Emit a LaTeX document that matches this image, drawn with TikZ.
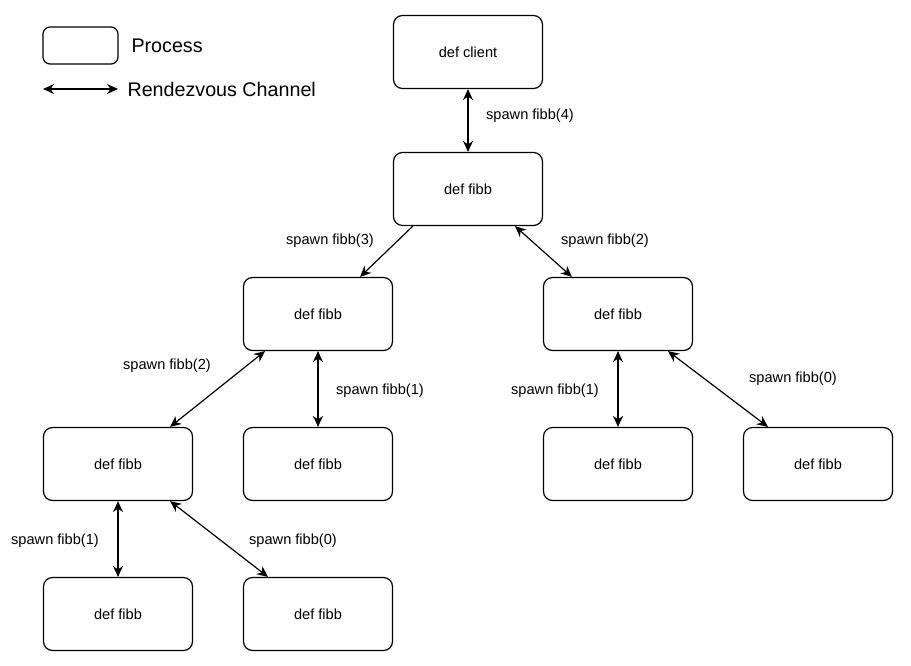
\documentclass[tikz,border=0pt]{standalone}
\usepackage{fontspec}
\setmainfont{Liberation Sans}
\usetikzlibrary{calc,arrows.meta}

\begin{document}
\begin{tikzpicture}[x=1pt,y=-1pt,
                    process/.style={draw,line width=1.2pt,rounded corners=9pt,minimum width=149pt,minimum height=73pt,font=\fontsize{14.6}{17}\selectfont},
                    channel/.style={line width=1.2pt,{Stealth[length=11pt,width=10pt]}-{Stealth[length=11pt,width=10pt]}},
                    oneway/.style={line width=1.2pt,-{Stealth[length=11pt,width=10pt]}},
                    spawn label/.style={font=\fontsize{14.6}{17}\selectfont},
                    legend label/.style={anchor=west,font=\fontsize{19.7}{23}\selectfont}]
            \useasboundingbox (0,0) rectangle (911,665);
            % legend
            \draw[line width=1.2pt,rounded corners=7pt] (43,27) rectangle (118,64);
            \node[legend label] (legend process) at (128,46) {Process};
            \coordinate (legend a) at (43,89);
            \coordinate (legend b) at (118,89);
            \draw[channel] (legend a) -- (legend b);
            \node[legend label] (legend channel) at (124,89) {Rendezvous Channel};

            \node[process] (client) at (468,52) {def client};
            \node[process] (fibb) at (468,189) {def fibb};
            \node[process] (fibb l) at (318,314) {def fibb};
            \node[process] (fibb r) at (618,314) {def fibb};
            \node[process] (fibb ll) at (118,464) {def fibb};
            \node[process] (fibb lr) at (318,464) {def fibb};
            \node[process] (fibb rl) at (618,464) {def fibb};
            \node[process] (fibb rr) at (818,464) {def fibb};
            \node[process] (fibb lll) at (118,614) {def fibb};
            \node[process] (fibb llr) at (318,614) {def fibb};

            \draw[channel] (client.south) -- (fibb.north);
            \draw[oneway] ($ (fibb.south west) ! 0.133 ! (fibb.south east) $) -- ($ (fibb l.north west) ! 0.78 ! (fibb l.north east) $);
            \draw[channel] ($ (fibb.south west) ! 0.813 ! (fibb.south east) $) -- ($ (fibb r.north west) ! 0.193 ! (fibb r.north east) $);
            \draw[channel] ($ (fibb l.south west) ! 0.147 ! (fibb l.south east) $) -- ($ (fibb ll.north west) ! 0.847 ! (fibb ll.north east) $);
            \draw[channel] (fibb l.south) -- (fibb lr.north);
            \draw[channel] (fibb r.south) -- (fibb rl.north);
            \draw[channel] ($ (fibb r.south west) ! 0.833 ! (fibb r.south east) $) -- ($ (fibb rr.north west) ! 0.167 ! (fibb rr.north east) $);
            \draw[channel] (fibb ll.south) -- (fibb lll.north);
            \draw[channel] ($ (fibb ll.south west) ! 0.847 ! (fibb ll.south east) $) -- ($ (fibb llr.north west) ! 0.167 ! (fibb llr.north east) $);

            \node[spawn label] (spawn 4) at (530,116) {spawn fibb(4)};
            \node[spawn label] (spawn 3) at (330,241) {spawn fibb(3)};
            \node[spawn label] (spawn 2 r) at (605,241) {spawn fibb(2)};
            \node[spawn label] (spawn 2 l) at (167,366) {spawn fibb(2)};
            \node[spawn label] (spawn 1 l) at (380,391) {spawn fibb(1)};
            \node[spawn label] (spawn 1 r) at (555,391) {spawn fibb(1)};
            \node[spawn label] (spawn 0 r) at (793,379) {spawn fibb(0)};
            \node[spawn label] (spawn 1 ll) at (55,541) {spawn fibb(1)};
            \node[spawn label] (spawn 0 l) at (293,541) {spawn fibb(0)};

        \end{tikzpicture}
\end{document}
